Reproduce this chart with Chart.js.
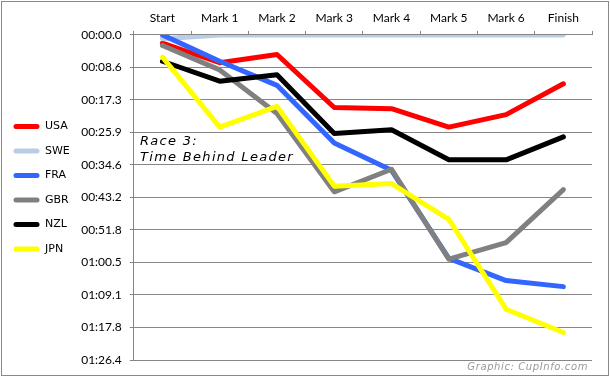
<!DOCTYPE html>
<html lang="en">

<head>
    <meta charset="UTF-8">
    <script src="https://cdn.jsdelivr.net/npm/chart.js"></script>
    <title>Race 3</title>
    <style>
        body { margin: 0; background: #fff; }
        #wrap { position: relative; width: 610px; height: 377px; }
        #frame { position: absolute; left: 1px; top: 1px; width: 606px; height: 373px; border: 1px solid #8a8a8a; pointer-events: none; }
    </style>
</head>

<body>
    <div id="wrap">
        <canvas id="race" width="610" height="377"></canvas>
        <div id="frame"></div>
    </div>
</body>

<script>
    // seconds behind the leader at each mark
    const categories = ['Start', 'Mark 1', 'Mark 2', 'Mark 3', 'Mark 4', 'Mark 5', 'Mark 6', 'Finish'];
    const usa = [2.2, 7.4, 5.2, 19.3, 19.6, 24.5, 21.2, 13.0];
    const swe = [1.0, 0, 0, 0, 0, 0, 0, 0];
    const fra = [0, 7.0, 13.4, 28.7, 36.0, 59.4, 65.3, 66.9];
    const gbr = [2.8, 9.3, 20.9, 41.7, 35.7, 59.6, 55.2, 41.1];
    const nzl = [7.0, 12.3, 10.6, 26.2, 25.2, 33.2, 33.2, 27.1];
    const jpn = [5.9, 24.5, 19.0, 40.2, 39.5, 49.0, 72.9, 79.1];
    const yTicks = [0, 8.64, 17.28, 25.92, 34.56, 43.2, 51.84, 60.48, 69.12, 77.76, 86.4];

    const gridColor = '#868686';

    function fmtTime(v) {
        let m = Math.floor(v / 60 + 1e-9);
        let s = (v - m * 60).toFixed(1);
        if (s.length < 4) s = '0' + s;
        return (m < 10 ? '0' : '') + m + ':' + s;
    }

    function line(label, data, color, order) {
        return {
            label: label,
            data: data,
            borderColor: color,
            backgroundColor: color,
            borderWidth: 5,
            borderCapStyle: 'round',
            borderJoinStyle: 'round',
            pointRadius: 0,
            pointHoverRadius: 0,
            tension: 0,
            fill: false,
            clip: { left: 6, top: 0, right: 6, bottom: 6 },
            order: order
        };
    }

    // race title and credit drawn on top of the plot
    const notes = {
        id: 'notes',
        afterDraw(chart) {
            let ctx = chart.ctx;
            ctx.save();
            ctx.fillStyle = '#000';
            ctx.font = 'oblique 13px "DejaVu Sans"';
            ctx.textAlign = 'left';
            ctx.textBaseline = 'alphabetic';
            if ('letterSpacing' in ctx) ctx.letterSpacing = '1.3px';
            ctx.fillText('Race 3:', 140, 145);
            ctx.fillText('Time Behind Leader', 140, 161);
            ctx.fillStyle = '#999';
            ctx.font = 'oblique 10px "DejaVu Sans"';
            ctx.textAlign = 'right';
            if ('letterSpacing' in ctx) ctx.letterSpacing = '0.6px';
            ctx.fillText('Graphic: CupInfo.com', 588, 370);
            ctx.restore();
        }
    };

    let race = new Chart(document.getElementById('race').getContext('2d'), {
        type: 'line',
        data: {
            labels: categories,
            datasets: [
                line('USA', usa, '#ff0000', 6),
                line('SWE', swe, '#b9cde5', 5),
                line('FRA', fra, '#3366ff', 4),
                line('GBR', gbr, '#808080', 3),
                line('NZL', nzl, '#000000', 2),
                line('JPN', jpn, '#ffff00', 1)
            ]
        },
        options: {
            responsive: false,
            animation: false,
            devicePixelRatio: 1,
            layout: { padding: { top: 4.5, right: 18, bottom: 17, left: 0 } },
            plugins: {
                tooltip: { enabled: false },
                legend: {
                    position: 'left',
                    // empty title only pushes the items down a little
                    title: { display: true, text: ' ', font: { size: 1 }, padding: { top: 10, bottom: 0 } },
                    labels: {
                        boxWidth: 26,
                        boxHeight: 5,
                        padding: 13.5,
                        useBorderRadius: true,
                        borderRadius: 2.5,
                        color: '#000',
                        font: { family: '"DejaVu Sans"', size: 11 },
                        sort: function (a, b) { return a.datasetIndex - b.datasetIndex; },
                        generateLabels: function (chart) {
                            return Chart.defaults.plugins.legend.labels.generateLabels(chart).map(function (l) {
                                l.lineWidth = 0;
                                l.fillStyle = l.strokeStyle;
                                return l;
                            });
                        }
                    }
                }
            },
            scales: {
                x: {
                    position: 'top',
                    offset: true,
                    grid: { offset: true, drawOnChartArea: false, tickLength: 4, color: gridColor },
                    border: { color: gridColor },
                    ticks: { color: '#000', padding: 6, font: { family: 'Lato', size: 12 } }
                },
                y: {
                    reverse: true,
                    min: 0,
                    max: 86.4,
                    afterBuildTicks: function (scale) {
                        scale.ticks = yTicks.map(function (v) { return { value: v }; });
                    },
                    afterFit: function (scale) {
                        scale.width = 54;
                    },
                    grid: { tickLength: 4, color: gridColor },
                    border: { color: gridColor },
                    ticks: {
                        color: '#000',
                        padding: 8,
                        font: { family: 'Lato', size: 12 },
                        callback: function (v) { return fmtTime(v); }
                    }
                }
            }
        },
        plugins: [notes]
    });
</script>

</html>
